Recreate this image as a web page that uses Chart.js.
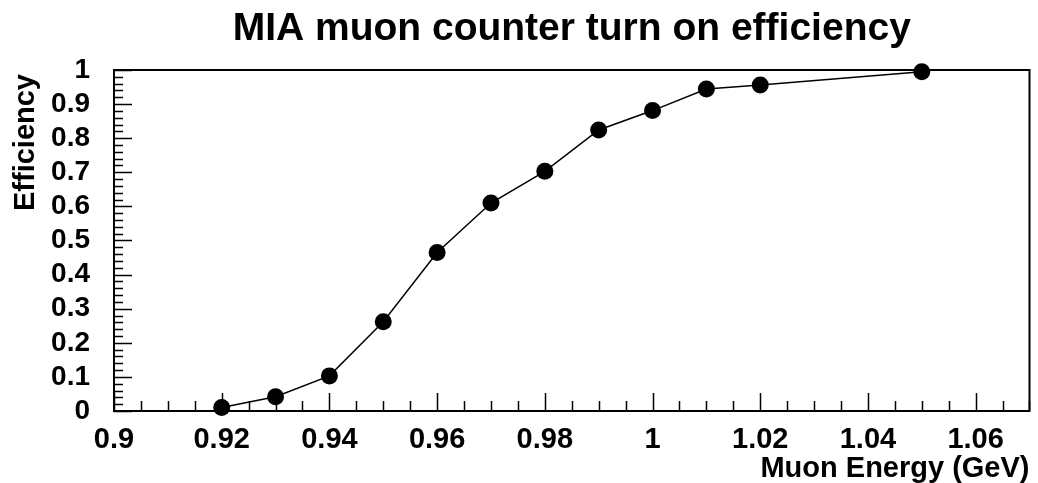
<!DOCTYPE html>
<html>
<head>
<meta charset="utf-8">
<script src="https://cdn.jsdelivr.net/npm/chart.js@4"></script>
<style>
  html, body { margin: 0; padding: 0; background: #fff; }
  #wrap { width: 1038px; height: 483px; }
</style>
</head>
<body>
<div id="wrap"><canvas id="effChart" width="1038" height="483"></canvas></div>
<script>
// data
const energy = [0.92, 0.93, 0.94, 0.95, 0.96, 0.97, 0.98, 0.99, 1.00, 1.01, 1.02, 1.05];
const efficiency = [0.01, 0.042, 0.103, 0.262, 0.465, 0.61, 0.703, 0.824, 0.881, 0.944, 0.956, 0.995];

const xTicks = [0.9, 0.92, 0.94, 0.96, 0.98, 1.0, 1.02, 1.04, 1.06];
const xTickLabels = ['0.9', '0.92', '0.94', '0.96', '0.98', '1', '1.02', '1.04', '1.06'];
const yTicks = [0, 0.1, 0.2, 0.3, 0.4, 0.5, 0.6, 0.7, 0.8, 0.9, 1];
const yTickLabels = ['0', '0.1', '0.2', '0.3', '0.4', '0.5', '0.6', '0.7', '0.8', '0.9', '1'];

const titleText = 'MIA muon counter turn on efficiency';
const xTitle = 'Muon Energy (GeV)';
const yTitle = 'Efficiency';

const FONT = '"Liberation Sans", Arial, Helvetica, sans-serif';

// ROOT style frame, inward ticks and titles
const rootFrame = {
    id: 'rootFrame',
    beforeDatasetsDraw(chart) {
        const ctx = chart.ctx;
        const a = chart.chartArea;
        const xs = chart.scales.x;
        const ys = chart.scales.y;
        ctx.save();
        ctx.strokeStyle = '#000';
        ctx.lineWidth = 2;
        ctx.strokeRect(a.left, a.top, a.right - a.left, a.bottom - a.top);

        ctx.lineWidth = 1.5;
        ctx.beginPath();
        // x ticks: major + 4 minor divisions
        const xStep = (xTicks[1] - xTicks[0]) / 4;
        for (let v = xTicks[0]; v <= xs.max + 1e-9; v += xStep) {
            const px = Math.round(xs.getPixelForValue(v)) + 0.5;
            const isMajor = xTicks.some(t => Math.abs(t - v) < 1e-6);
            ctx.moveTo(px, a.bottom);
            ctx.lineTo(px, a.bottom - (isMajor ? 18 : 10));
        }
        // y ticks: major + 5 minor divisions
        const yStep = (yTicks[1] - yTicks[0]) / 5;
        for (let v = yTicks[0]; v <= ys.max + 1e-9; v += yStep) {
            const py = Math.round(ys.getPixelForValue(v)) + 0.5;
            const isMajor = yTicks.some(t => Math.abs(t - v) < 1e-6);
            ctx.moveTo(a.left, py);
            ctx.lineTo(a.left + (isMajor ? 18 : 9), py);
        }
        ctx.stroke();
        ctx.restore();
    },
    afterDraw(chart) {
        const ctx = chart.ctx;
        const a = chart.chartArea;
        ctx.save();
        ctx.fillStyle = '#000';
        ctx.font = 'bold 39px ' + FONT;
        ctx.textAlign = 'center';
        ctx.textBaseline = 'alphabetic';
        ctx.fillText(titleText, (a.left + a.right) / 2, 40);

        ctx.font = 'bold 29px ' + FONT;
        ctx.textAlign = 'right';
        ctx.fillText(xTitle, a.right, 477);

        ctx.font = 'bold 29px ' + FONT;
        ctx.translate(34, a.top + 4);
        ctx.rotate(-Math.PI / 2);
        ctx.textAlign = 'right';
        ctx.fillText(yTitle, 0, 0);
        ctx.restore();
    }
};

const ctx = document.getElementById('effChart').getContext('2d');
new Chart(ctx, {
    type: 'line',
    data: {
        datasets: [{
            data: energy.map((e, i) => ({ x: e, y: efficiency[i] })),
            borderColor: '#000',
            borderWidth: 1.5,
            backgroundColor: '#000',
            pointRadius: 8.5,
            pointBackgroundColor: '#000',
            pointBorderWidth: 0,
            tension: 0,
            clip: false
        }]
    },
    options: {
        responsive: false,
        animation: false,
        layout: { padding: { top: 70, right: 5, bottom: 0, left: 0 } },
        plugins: {
            legend: { display: false },
            tooltip: { enabled: false }
        },
        scales: {
            x: {
                type: 'linear',
                min: 0.9,
                max: 1.07,
                grid: { display: false, drawTicks: false },
                border: { display: false },
                afterBuildTicks: s => { s.ticks = xTicks.map(v => ({ value: v })); },
                afterFit: s => { s.height = 72; },
                ticks: {
                    autoSkip: false,
                    maxRotation: 0,
                    padding: 12,
                    color: '#000',
                    font: { family: FONT, size: 29, weight: 'bold' },
                    callback: (v, i) => xTickLabels[i]
                }
            },
            y: {
                min: 0,
                max: 1,
                grid: { display: false, drawTicks: false },
                border: { display: false },
                afterBuildTicks: s => { s.ticks = yTicks.map(v => ({ value: v })); },
                afterFit: s => { s.width = 114; },
                ticks: {
                    autoSkip: false,
                    padding: 24,
                    color: '#000',
                    font: { family: FONT, size: 28, weight: 'bold' },
                    callback: (v, i) => yTickLabels[i]
                }
            }
        }
    },
    plugins: [rootFrame]
});
</script>
</body>
</html>
